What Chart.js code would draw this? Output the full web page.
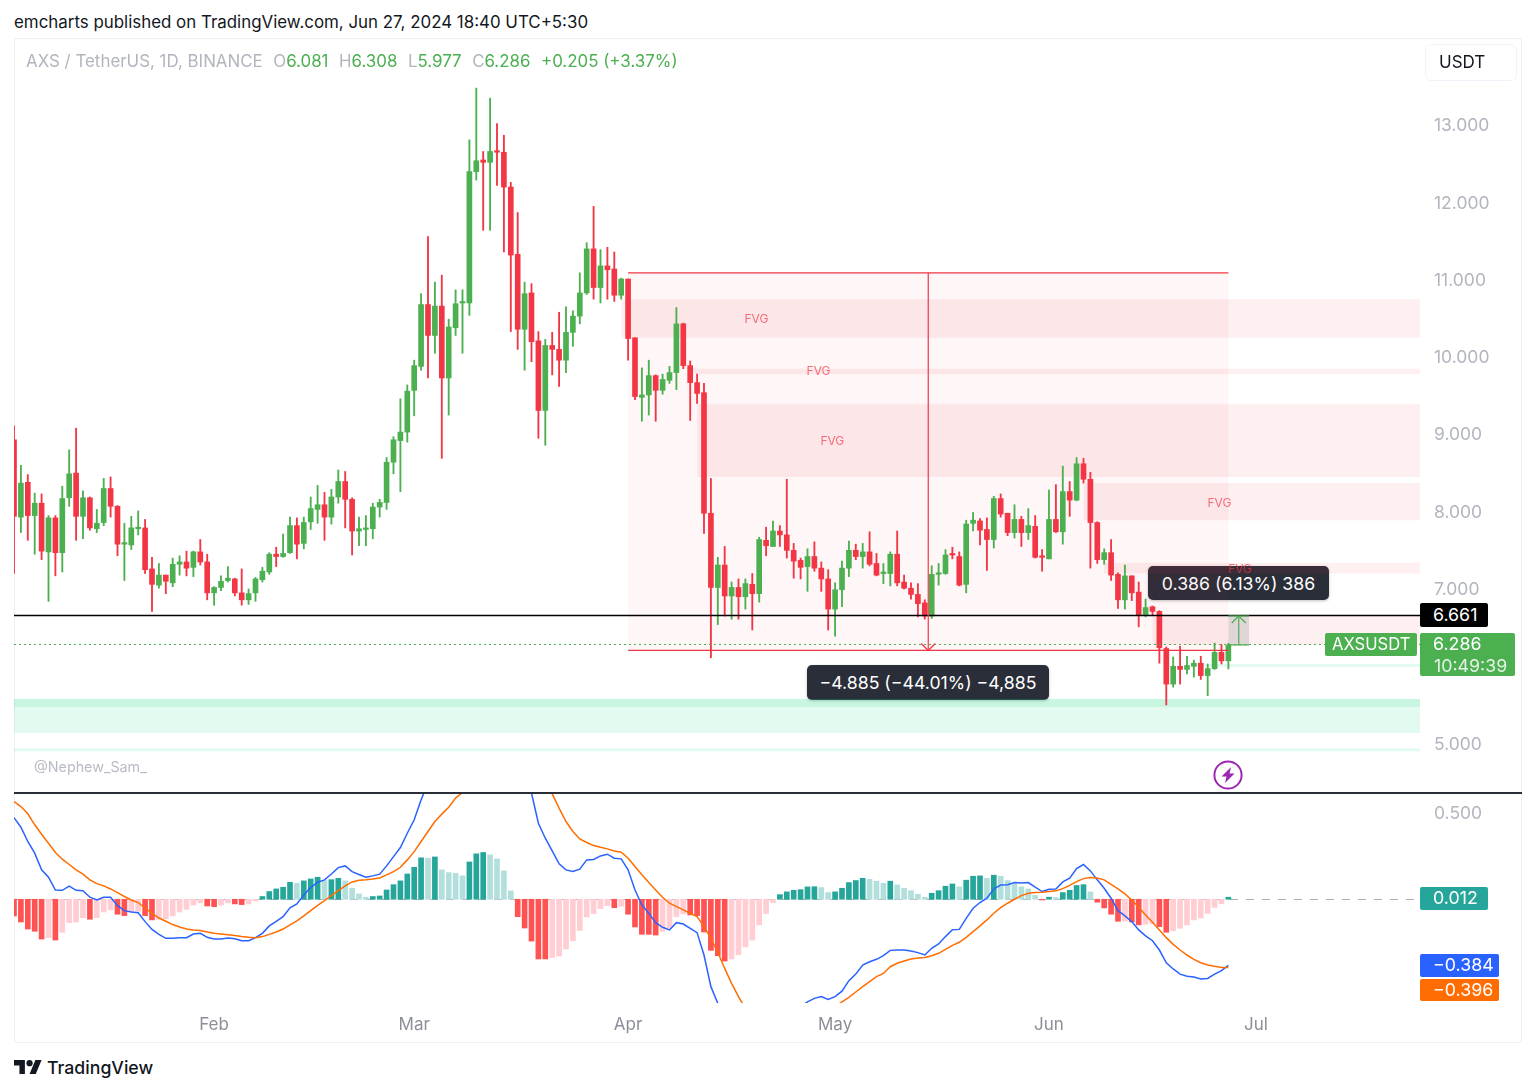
<!DOCTYPE html>
<html>
<head>
<meta charset="utf-8">
<title>AXSUSDT</title>
<script src="https://cdn.jsdelivr.net/npm/chart.js@4"></script>
<style>
    html, body { margin: 0; padding: 0; background: #fff; }
    body { width: 1536px; height: 1092px; position: relative; overflow: hidden; font-family: "Inter", "Liberation Sans", sans-serif; color: #131722; }
    .abs { position: absolute; white-space: nowrap; }
    canvas { position: absolute; left: 14px; z-index: 1; }
    .frame { left: 14px; top: 38px; width: 1506px; height: 1003px; border: 1px solid #eef0f3; border-radius: 3px; }
    .sep { left: 14px; top: 792px; width: 1508px; height: 2px; background: #2a2e39; z-index: 2; }
    .tip { background: #2a2e39; color: #fff; border-radius: 5px; font-size: 17.7px; line-height: 35px; text-align: center; box-shadow: 0 1px 3px rgba(0,0,0,.25); z-index: 0; }
    .tag { color: #fff; font-size: 17.8px; z-index: 2; border-radius: 2px; padding-left: 13px; box-sizing: border-box; }
    .legend { left: 26px; top: 50px; font-size: 16.9px; line-height: 22px; color: #b2b5be; z-index: 2; }
    .legend b { font-weight: 400; color: #4caf50; }
    .legend span { margin-left: 10.5px; }
</style>
</head>
<body>
<div class="abs" style="left:14px;top:12px;font-size:16.9px;line-height:20px;">emcharts published on TradingView.com, Jun 27, 2024 18:40 UTC+5:30</div>
<div class="abs frame"></div>
<div class="abs legend">AXS / TetherUS, 1D, BINANCE<span>O<b>6.081</b></span><span>H<b>6.308</b></span><span>L<b>5.977</b></span><span>C<b>6.286</b></span><span><b>+0.205 (+3.37%)</b></span></div>
<div class="abs" style="left:1425px;top:44px;height:35px;border:1px solid #f0f3fa;border-radius:6px;font-size:17px;line-height:35px;padding-left:13px;width:77px;z-index:2;">USDT</div>

<div class="abs tip" style="left:1148px;top:566px;width:181px;height:34px;">0.386 (6.13%) 386</div>
<div class="abs tip" style="left:807px;top:665px;width:242px;height:35px;">−4.885 (−44.01%) −4,885</div>

<canvas id="chartPreco" width="1508" height="755" style="top:38px;width:1508px;height:755px;"></canvas>
<canvas id="chartMacd" width="1508" height="249" style="top:794px;width:1508px;height:249px;"></canvas>
<div class="abs sep"></div>

<div class="abs" style="left:34px;top:758px;font-size:14.3px;line-height:18px;color:#b8bbc4;z-index:2;">@Nephew_Sam_</div>
<svg class="abs" style="left:1213px;top:760px;z-index:2;" width="30" height="30" viewBox="0 0 30 30">
    <circle cx="15" cy="15" r="13.6" fill="#fff" stroke="#9c27b0" stroke-width="2"/>
    <path d="M18 7 L8.500 16.500 L13.500 16.500 L12 23 L21.500 13.500 L16.500 13.500 Z" fill="#9c27b0"/>
</svg>

<div class="abs tag" style="left:1420px;top:603px;width:68px;height:24px;line-height:24px;background:#000;">6.661</div>
<div class="abs tag" style="left:1325px;top:633px;width:92px;height:23px;line-height:23px;background:#4caf50;padding-left:7px;font-size:16.6px;">AXSUSDT</div>
<div class="abs tag" style="left:1420px;top:633px;width:95px;height:43px;line-height:22px;background:#4caf50;">6.286<br><span style="color:#e3f3e4;margin-left:1px;">10:49:39</span></div>
<div class="abs tag" style="left:1420px;top:887px;width:68px;height:23px;line-height:22px;background:#26a69a;">0.012</div>
<div class="abs tag" style="left:1420px;top:954px;width:79px;height:23px;line-height:22px;background:#2962ff;">−0.384</div>
<div class="abs tag" style="left:1420px;top:979px;width:79px;height:22px;line-height:22px;background:#ff6d00;">−0.396</div>

<svg class="abs" style="left:14px;top:1060px;" width="28" height="15" viewBox="0 0 36 19">
    <path d="M14 18H7V7H0V0h14v18zM28 18h-8L27.500 0h8L28 18z" fill="#131722"/><circle cx="20" cy="4" r="4" fill="#131722"/>
</svg>
<div class="abs" style="left:47px;top:1057px;font-size:17.7px;line-height:22px;font-weight:500;">TradingView</div>

<script>
// Velas diarias de 3 jan a 27 jun 2024
const aberturas = [
    8.94,7.94,8.39,7.96,8.12,7.49,7.93,7.48,8.19,8.51,
    7.95,8.19,7.79,7.87,8.31,8.08,7.59,7.58,7.79,7.80,
    7.27,7.06,7.19,7.09,7.33,7.36,7.29,7.49,7.36,6.96,
    7.03,7.12,7.14,6.96,6.87,6.96,7.13,7.23,7.46,7.43,
    7.48,7.83,7.60,7.88,8.04,8.10,7.94,8.20,8.40,8.17,
    7.76,7.78,7.79,8.07,8.13,8.65,8.93,9.04,9.58,9.89,
    10.69,10.29,10.67,9.74,10.39,10.71,10.71,12.41,12.56,12.53,
    12.68,12.66,12.21,11.34,10.37,10.84,10.22,9.32,10.16,10.11,
    9.97,10.33,10.54,10.84,11.41,10.91,11.19,11.15,10.81,11.02,
    10.26,9.49,9.52,9.77,9.58,9.71,9.81,10.44,9.90,9.68,
    9.55,7.99,7.03,7.32,6.92,7.03,6.91,7.07,6.95,7.64,
    7.56,7.76,7.71,7.51,7.38,7.30,7.43,7.28,7.14,6.75,
    7.00,7.28,7.51,7.43,7.49,7.34,7.21,7.21,7.46,7.10,
    7.02,6.94,6.83,6.66,7.20,7.21,7.46,7.43,7.07,7.86,
    7.89,7.78,7.65,8.18,7.99,7.74,7.91,7.74,7.82,7.43,
    7.40,7.91,7.75,8.27,8.16,8.63,8.43,7.87,7.39,7.48,
    7.20,6.87,7.18,6.97,6.67,6.78,6.72,6.24,5.78,6.01,
    5.97,6.01,6.05,5.89,5.98,6.19,6.081
];
const maximas = [
    9.12,8.61,8.49,8.25,8.24,7.96,7.96,8.34,8.81,9.09,
    8.28,8.20,8.04,8.44,8.46,8.09,7.86,7.95,8.02,7.91,
    7.42,7.34,7.19,7.41,7.44,7.50,7.50,7.65,7.46,7.04,
    7.18,7.30,7.15,7.27,7.01,7.16,7.29,7.48,7.55,7.72,
    7.94,7.93,7.94,8.20,8.35,8.26,8.30,8.55,8.53,8.19,
    7.94,7.96,8.12,8.17,8.71,8.98,9.47,9.65,9.97,10.83,
    11.57,10.98,11.07,10.50,10.88,10.88,12.82,13.49,12.67,13.36,
    13.03,12.88,12.27,11.88,10.98,10.96,10.34,10.24,10.33,10.59,
    10.66,10.61,11.10,11.49,11.96,11.40,11.43,11.37,11.03,11.02,
    10.26,9.87,9.97,9.78,9.79,9.89,10.65,10.45,9.96,9.79,
    9.67,8.44,7.42,7.56,7.10,7.14,7.14,7.21,7.68,7.81,
    7.89,7.83,8.43,7.60,7.41,7.53,7.62,7.36,7.26,7.09,
    7.37,7.63,7.59,7.60,7.75,7.47,7.34,7.49,7.76,7.19,
    7.09,7.08,6.87,7.31,7.34,7.52,7.55,7.49,7.90,8.00,
    7.92,7.93,8.21,8.24,7.99,8.10,7.95,8.05,7.96,7.52,
    8.29,8.36,8.60,8.40,8.71,8.70,8.52,7.88,7.53,7.65,
    7.22,7.32,7.18,7.10,6.88,6.79,6.73,6.26,6.13,6.27,
    6.14,6.09,6.14,6.04,6.31,6.29,6.308
];
const minimas = [
    7.21,7.74,7.64,7.46,7.39,6.85,7.18,7.23,8.08,7.64,
    7.66,7.77,7.74,7.83,7.94,7.44,7.12,7.52,7.71,7.21,
    6.72,7.02,6.95,7.04,7.19,7.18,7.17,7.32,6.87,6.80,
    6.99,7.10,6.92,6.80,6.81,6.85,7.10,7.20,7.30,7.42,
    7.47,7.40,7.53,7.78,7.86,7.64,7.85,8.12,7.80,7.45,
    7.57,7.57,7.66,7.94,8.04,8.50,8.27,8.91,9.25,9.84,
    9.74,10.06,8.70,9.26,10.29,10.06,10.55,12.30,11.65,11.65,
    12.23,11.37,10.34,10.11,9.84,9.95,8.96,8.87,9.78,9.63,
    9.81,10.15,10.44,10.82,10.76,10.71,10.76,10.73,10.76,9.97,
    9.46,9.18,9.26,9.18,9.53,9.67,9.59,9.86,9.19,9.41,
    7.73,6.12,6.55,6.66,6.62,6.62,6.75,6.48,6.84,7.44,
    7.56,7.56,7.41,7.15,7.14,6.98,7.24,6.98,6.48,6.40,
    6.78,7.17,7.39,7.28,7.31,7.18,7.08,7.05,7.05,7.01,
    6.88,6.65,6.62,6.63,7.06,7.20,7.40,7.05,6.96,7.76,
    7.58,7.25,7.54,7.94,7.70,7.67,7.56,7.65,7.41,7.24,
    7.40,7.74,7.59,7.95,8.15,8.38,7.28,7.34,7.33,7.12,
    6.76,6.75,6.86,6.52,6.65,6.67,6.05,5.51,5.74,5.78,
    5.91,5.87,5.84,5.63,5.97,6.04,5.977
];
const fechamentos = [
    7.95,8.38,7.96,8.12,7.50,7.93,7.48,8.18,8.50,7.95,
    8.19,7.80,7.86,8.31,8.08,7.59,7.60,7.80,7.80,7.26,
    7.07,7.19,7.11,7.33,7.36,7.28,7.49,7.36,6.96,7.03,
    7.11,7.15,6.96,6.87,6.95,7.14,7.24,7.46,7.43,7.47,
    7.83,7.59,7.87,8.05,8.10,7.94,8.20,8.40,8.17,7.76,
    7.79,7.80,8.07,8.13,8.65,8.94,9.04,9.57,9.90,10.69,
    10.29,10.67,9.74,10.40,10.70,10.72,12.41,12.55,12.53,12.67,
    12.66,12.21,11.33,10.37,10.83,10.21,9.32,10.16,10.11,9.97,
    10.33,10.54,10.84,11.41,10.91,11.19,11.14,10.81,11.02,10.25,
    9.50,9.52,9.77,9.58,9.72,9.81,10.44,9.90,9.68,9.54,
    7.99,7.03,7.32,6.92,7.03,6.91,7.08,6.95,7.65,7.57,
    7.76,7.71,7.51,7.37,7.29,7.43,7.28,7.14,6.75,7.00,
    7.28,7.51,7.43,7.49,7.33,7.19,7.23,7.46,7.09,7.02,
    6.94,6.82,6.66,7.20,7.21,7.45,7.45,7.06,7.85,7.90,
    7.77,7.65,8.18,7.98,7.74,7.91,7.74,7.83,7.42,7.42,
    7.91,7.75,8.27,8.16,8.63,8.43,7.87,7.39,7.48,7.19,
    6.87,7.18,6.96,6.67,6.77,6.72,6.25,5.78,6.01,5.97,
    6.02,6.05,5.89,5.98,6.19,6.08,6.286
];

// MACD
const histograma = [
    -.097,-.132,-.173,-.186,-.231,-.223,-.237,-.192,-.136,-.132,
    -.107,-.116,-.107,-.074,-.062,-.087,-.095,-.072,-.070,-.095,
    -.120,-.116,-.113,-.097,-.074,-.058,-.033,-.021,-.039,-.043,
    -.033,-.021,-.027,-.031,-.027,-.010,.016,.045,.060,.070,
    .099,.093,.107,.118,.128,.109,.114,.122,.107,.064,
    .031,.012,.016,.019,.054,.085,.107,.147,.186,.241,
    .239,.246,.171,.155,.151,.136,.217,.264,.272,.258,
    .235,.165,.049,-.101,-.167,-.243,-.347,-.347,-.338,-.330,
    -.289,-.241,-.182,-.103,-.083,-.054,-.037,-.049,-.041,-.087,
    -.161,-.204,-.204,-.208,-.186,-.167,-.101,-.085,-.091,-.095,
    -.190,-.297,-.328,-.359,-.347,-.322,-.277,-.237,-.149,-.083,
    -.019,.027,.043,.052,.056,.072,.073,.068,.039,.043,
    .064,.097,.109,.122,.116,.105,.093,.105,.083,.064,
    .050,.029,.012,.035,.050,.076,.089,.072,.111,.134,
    .136,.122,.140,.134,.109,.091,.072,.060,.023,-.004,
    .012,.010,.039,.052,.080,.085,.043,-.017,-.050,-.087,
    -.128,-.127,-.132,-.149,-.145,-.142,-.159,-.192,-.182,-.169,
    -.149,-.120,-.109,-.083,-.047,-.025,.012
];
const linhaMacd = [
    .475,.419,.336,.268,.171,.128,.054,.052,.076,.052,
    .050,.012,-.004,.012,.012,-.037,-.066,-.074,-.078,-.130,
    -.175,-.204,-.227,-.227,-.223,-.223,-.202,-.198,-.221,-.231,
    -.231,-.225,-.229,-.241,-.241,-.223,-.198,-.155,-.128,-.101,
    -.050,-.027,.025,.068,.099,.113,.147,.184,.194,.161,
    .144,.128,.136,.146,.194,.248,.301,.384,.462,.578,
    .675,.753,.821,.879,.918,.947,.956,.956,.947,.927,
    .889,.840,.792,.743,.679,.617,.442,.355,.281,.206,
    .171,.161,.175,.229,.231,.252,.262,.239,.235,.171,
    .054,-.033,-.081,-.136,-.163,-.178,-.136,-.144,-.169,-.194,
    -.324,-.508,-.605,-.722,-.809,-.877,-.916,-.935,-.916,-.877,
    -.819,-.760,-.702,-.654,-.625,-.596,-.576,-.566,-.582,-.566,
    -.534,-.473,-.435,-.382,-.363,-.349,-.328,-.297,-.295,-.295,
    -.301,-.310,-.324,-.285,-.260,-.217,-.177,-.175,-.111,-.052,
    -.019,.006,.060,.083,.085,.097,.095,.097,.070,.045,
    .058,.060,.101,.122,.178,.202,.165,.113,.064,.006,
    -.066,-.097,-.130,-.178,-.213,-.241,-.295,-.369,-.405,-.435,
    -.448,-.452,-.464,-.460,-.435,-.415,-.384
];
const linhaSinal = [
    .568,.539,.497,.433,.378,.326,.272,.233,.202,.171,
    .146,.113,.091,.078,.060,.039,.016,-.004,-.019,-.052,
    -.081,-.109,-.128,-.147,-.161,-.173,-.178,-.182,-.190,-.198,
    -.202,-.206,-.211,-.217,-.221,-.223,-.217,-.204,-.190,-.173,
    -.149,-.126,-.097,-.066,-.035,-.008,.021,.050,.078,.101,
    .111,.114,.118,.124,.142,.161,.186,.229,.277,.336,
    .394,.452,.495,.535,.588,.621,.665,.704,.743,.772,
    .788,.792,.782,.772,.743,.714,.685,.652,.613,.530,
    .452,.394,.351,.330,.312,.303,.293,.281,.274,.239,
    .190,.142,.097,.054,.012,-.023,-.043,-.062,-.081,-.101,
    -.159,-.227,-.308,-.402,-.489,-.566,-.634,-.693,-.737,-.764,
    -.786,-.795,-.795,-.786,-.770,-.751,-.712,-.683,-.654,-.625,
    -.596,-.570,-.539,-.508,-.479,-.450,-.431,-.392,-.372,-.359,
    -.347,-.341,-.338,-.328,-.314,-.291,-.268,-.250,-.221,-.188,
    -.155,-.120,-.081,-.049,-.023,0,.021,.035,.039,.041,
    .045,.049,.062,.081,.103,.120,.126,.124,.113,.087,
    .060,.031,-.004,-.047,-.091,-.134,-.178,-.223,-.262,-.295,
    -.324,-.349,-.369,-.382,-.390,-.396,-.396
];

// Eixos: indice do dia (0 = 3 jan)
const mesesPos = [29, 58, 89, 119, 150, 180];
const mesesNomes = ["Feb", "Mar", "Apr", "May", "Jun", "Jul"];
const ticksPreco = [13, 12, 11, 10, 9, 8, 7, 5];
const ticksMacd = [0.5];

// Zonas: [dia inicial, preco de cima, preco de baixo]
const zonasFvg = [
    [88, 10.76, 10.26],
    [98, 9.86, 9.79],
    [99, 9.40, 8.46],
    [155, 8.38, 7.90],
    [158, 7.35, 7.21],
    [165, 6.661, 6.286]
];
const zonasVerdes = [
    [0, 5.587, 5.147],
    [0, 5.587, 5.484],
    [0, 4.95, 4.91],
    [171, 6.04, 6.00]
];
// Rotulos FVG: [dia, preco]
const rotulosFvg = [[107.6, 10.50], [116.6, 9.83], [118.6, 8.92], [174.7, 8.12], [177.7, 7.27]];

// Medicao de queda e de alta
const quedaDias = [89, 176, 132.5];
const quedaPrecos = [11.10, 6.215];
const altaDias = [176, 179, 177.5];
const altaPrecos = [6.661, 6.286];
const precoNivel = 6.661;
const precoAtual = 6.286;

const VERDE = "#4caf50";
const VERMELHO = "#f23645";
const diaMax = 203.77;

function eixoX(alturaEixo) {
    return {
        type: "linear",
        min: 0,
        max: diaMax,
        offset: false,
        display: alturaEixo > 0,
        grid: { display: false, drawTicks: false },
        border: { display: false },
        afterBuildTicks: (s) => { s.ticks = mesesPos.map((v) => ({ value: v })); },
        afterFit: (s) => {
            s.height = alturaEixo;
            s.paddingLeft = 0;
            s.paddingRight = 0;
        },
        ticks: {
            autoSkip: false,
            maxRotation: 0,
            padding: 12,
            color: "#8c8f98",
            font: { family: "Inter", size: 17 },
            callback: (v) => mesesNomes[mesesPos.indexOf(v)]
        }
    };
}

function eixoY(min, max, lista, casas) {
    return {
        position: "right",
        min: min,
        max: max,
        grid: { display: false, drawTicks: false },
        border: { display: false },
        afterBuildTicks: (s) => { s.ticks = lista.map((v) => ({ value: v })); },
        afterFit: (s) => {
            s.width = 102;
            s.paddingTop = 0;
            s.paddingBottom = 0;
        },
        ticks: {
            autoSkip: false,
            padding: 14,
            color: "#b2b5be",
            font: { family: "Inter", size: 17.5 },
            callback: (v) => v.toFixed(casas)
        }
    };
}

function linha(ctx, x0, y0, x1, y1) {
    ctx.beginPath();
    ctx.moveTo(x0, y0);
    ctx.lineTo(x1, y1);
    ctx.stroke();
}

// Desenhos sobre o grafico de preco
const desenhosPreco = {
    id: "desenhosPreco",
    beforeDatasetsDraw(chart) {
        const { ctx, chartArea: a, scales: { x, y } } = chart;
        ctx.save();
        ctx.beginPath();
        ctx.rect(a.left, a.top, a.width, a.height);
        ctx.clip();
        ctx.fillStyle = "rgba(242,54,69,0.045)";
        ctx.fillRect(x.getPixelForValue(quedaDias[0]), y.getPixelForValue(quedaPrecos[0]),
            x.getPixelForValue(quedaDias[1]) - x.getPixelForValue(quedaDias[0]),
            y.getPixelForValue(quedaPrecos[1]) - y.getPixelForValue(quedaPrecos[0]));
        ctx.fillStyle = "rgba(242,54,69,0.08)";
        zonasFvg.forEach((z) => {
            const x0 = x.getPixelForValue(z[0]);
            ctx.fillRect(x0, y.getPixelForValue(z[1]), a.right - x0, y.getPixelForValue(z[2]) - y.getPixelForValue(z[1]));
        });
        ctx.fillStyle = "rgba(34,215,130,0.13)";
        zonasVerdes.forEach((z) => {
            const x0 = x.getPixelForValue(z[0]);
            ctx.fillRect(x0, y.getPixelForValue(z[1]), a.right - x0, y.getPixelForValue(z[2]) - y.getPixelForValue(z[1]));
        });
        ctx.restore();
    },
    afterDatasetsDraw(chart) {
        const { ctx, chartArea: a, scales: { x, y } } = chart;
        ctx.save();
        ctx.beginPath();
        ctx.rect(a.left, a.top, a.width, a.height);
        ctx.clip();

        // nivel e ultimo preco
        const yNivel = Math.round(y.getPixelForValue(precoNivel)) - 0.5;
        ctx.strokeStyle = "#000";
        ctx.lineWidth = 1.3;
        linha(ctx, a.left, yNivel, a.right, yNivel);
        const yAtual = Math.round(y.getPixelForValue(precoAtual)) - 0.5;
        ctx.strokeStyle = VERDE;
        ctx.lineWidth = 1.2;
        ctx.setLineDash([2, 3]);
        linha(ctx, a.left, yAtual, a.right, yAtual);
        ctx.setLineDash([]);

        // medicao de queda
        const qx0 = x.getPixelForValue(quedaDias[0]);
        const qx1 = x.getPixelForValue(quedaDias[1]);
        const qxm = x.getPixelForValue(quedaDias[2]);
        const qy0 = y.getPixelForValue(quedaPrecos[0]);
        const qy1 = y.getPixelForValue(quedaPrecos[1]);
        ctx.strokeStyle = VERMELHO;
        ctx.lineWidth = 1.2;
        linha(ctx, qx0, qy0, qx1, qy0);
        linha(ctx, qx0, qy1, qx1, qy1);
        linha(ctx, qxm, qy0, qxm, qy1);
        linha(ctx, qxm - 7, qy1 - 7, qxm, qy1);
        linha(ctx, qxm + 7, qy1 - 7, qxm, qy1);

        // medicao de alta
        const ax0 = x.getPixelForValue(altaDias[0]);
        const ax1 = x.getPixelForValue(altaDias[1]);
        const axm = x.getPixelForValue(altaDias[2]);
        const ay0 = y.getPixelForValue(altaPrecos[0]);
        const ay1 = y.getPixelForValue(altaPrecos[1]);
        ctx.fillStyle = "rgba(120,123,134,0.22)";
        ctx.fillRect(ax0, ay0, ax1 - ax0, ay1 - ay0);
        ctx.strokeStyle = VERDE;
        ctx.lineWidth = 1.2;
        linha(ctx, ax0, ay0, ax1, ay0);
        linha(ctx, ax0, ay1, ax1, ay1);
        linha(ctx, axm, ay0, axm, ay1);
        linha(ctx, axm - 7, ay0 + 7, axm, ay0);
        linha(ctx, axm + 7, ay0 + 7, axm, ay0);

        // rotulos FVG
        ctx.fillStyle = "rgba(242,54,69,0.7)";
        ctx.font = "12px Inter";
        ctx.textAlign = "center";
        ctx.textBaseline = "middle";
        rotulosFvg.forEach((r) => {
            ctx.fillText("FVG", x.getPixelForValue(r[0]), y.getPixelForValue(r[1]));
        });
        ctx.restore();
    }
};

const linhaZero = {
    id: "linhaZero",
    beforeDatasetsDraw(chart) {
        const { ctx, chartArea: a, scales: { y } } = chart;
        const y0 = Math.round(y.getPixelForValue(0)) + 0.5;
        ctx.save();
        ctx.strokeStyle = "rgba(120,123,134,0.6)";
        ctx.lineWidth = 1;
        ctx.setLineDash([8, 8]);
        linha(ctx, a.left, y0, a.right, y0);
        ctx.restore();
    }
};

const corVela = aberturas.map((o, i) => (fechamentos[i] >= o ? VERDE : VERMELHO));

new Chart(document.getElementById("chartPreco"), {
    type: "bar",
    data: {
        datasets: [
            {
                label: "Corpo",
                data: aberturas.map((o, i) => ({ x: i, y: [o, fechamentos[i]] })),
                backgroundColor: corVela,
                barThickness: 5,
                minBarLength: 1.5,
                grouped: false,
                order: 1
            },
            {
                label: "Pavio",
                data: maximas.map((h, i) => ({ x: i, y: [minimas[i], h] })),
                backgroundColor: corVela,
                barThickness: 1.2,
                grouped: false,
                order: 2
            }
        ]
    },
    options: {
        responsive: false,
        animation: false,
        events: [],
        layout: { padding: 0 },
        plugins: { legend: { display: false }, tooltip: { enabled: false } },
        scales: {
            x: eixoX(0),
            y: eixoY(4.371, 14.138, ticksPreco, 3)
        }
    },
    plugins: [desenhosPreco]
});

new Chart(document.getElementById("chartMacd"), {
    type: "bar",
    data: {
        datasets: [
            {
                type: "line",
                label: "Sinal",
                data: linhaSinal.map((v, i) => ({ x: i, y: v })),
                borderColor: "#ff6d00",
                borderWidth: 1.5,
                pointRadius: 0,
                order: 1
            },
            {
                type: "line",
                label: "MACD",
                data: linhaMacd.map((v, i) => ({ x: i, y: v })),
                borderColor: "#2962ff",
                borderWidth: 1.5,
                pointRadius: 0,
                order: 2
            },
            {
                label: "Histograma",
                data: histograma.map((v, i) => ({ x: i, y: v })),
                backgroundColor: histograma.map((v, i) => {
                    const ant = i > 0 ? histograma[i - 1] : v;
                    if (v >= 0) return v > ant ? "#26a69a" : "#b2dfdb";
                    return v > ant ? "#ffcdd2" : "#ff5252";
                }),
                barThickness: 5,
                grouped: false,
                order: 3
            }
        ]
    },
    options: {
        responsive: false,
        animation: false,
        events: [],
        layout: { padding: 0 },
        plugins: { legend: { display: false }, tooltip: { enabled: false } },
        scales: {
            x: eixoX(40),
            y: eixoY(-0.603, 0.612, ticksMacd, 3)
        }
    },
    plugins: [linhaZero]
});
</script>
</body>
</html>
